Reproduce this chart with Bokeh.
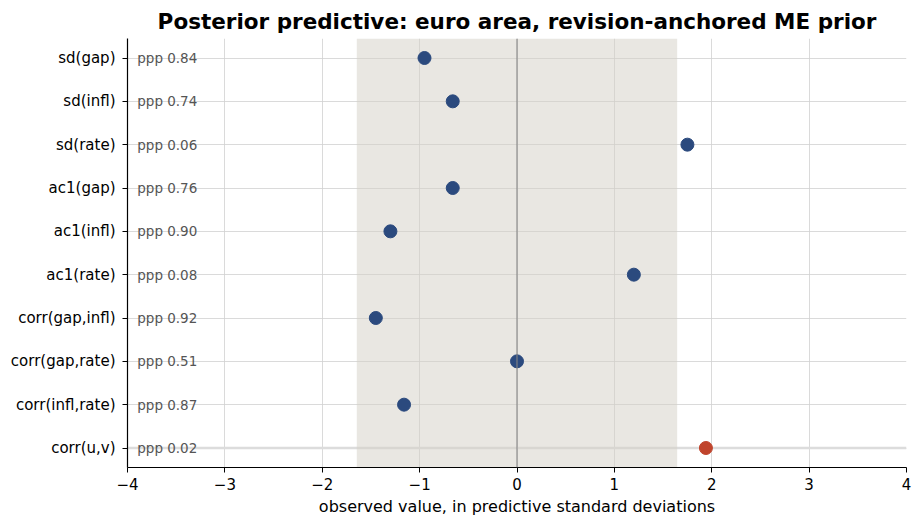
from bokeh.plotting import figure
from bokeh.models import ColumnDataSource, FixedTicker, Span, Range1d
from bokeh.core.properties import value
from bokeh.embed import file_html
from bokeh.resources import INLINE

# statistics, top to bottom
stats = ["sd(gap)", "sd(infl)", "sd(rate)", "ac1(gap)", "ac1(infl)", "ac1(rate)",
         "corr(gap,infl)", "corr(gap,rate)", "corr(infl,rate)", "corr(u,v)"]
zscore = [-0.95, -0.66, 1.75, -0.66, -1.30, 1.20, -1.45, 0.00, -1.16, 1.94]
ppp = [0.84, 0.74, 0.06, 0.76, 0.90, 0.08, 0.92, 0.51, 0.87, 0.02]
band_lo, band_hi = -1.645, 1.645

ypos = list(range(len(stats)))
colors = ["#c0442c" if p < 0.05 else "#2b4a7e" for p in ppp]
src = ColumnDataSource(data=dict(y=ypos, z=zscore, c=colors,
                                 lab=["ppp %.2f" % p for p in ppp],
                                 lx=[-3.9] * len(stats)))

W, H = 915, 521
p = figure(width=W, height=H, output_backend="svg", toolbar_location=None,
           x_range=Range1d(-4, 4), y_range=Range1d(len(stats) - 0.55, -0.45),
           title="Posterior predictive: euro area, revision-anchored ME prior",
           min_border_left=127, min_border_right=W - 906, min_border_top=38,
           min_border_bottom=H - 467)

p.title.align = "center"
p.title.text_font = "DejaVu Sans"
p.title.text_font_size = "21.5px"
p.title.text_font_style = "bold"
p.title.text_color = "black"

# highlighted row for tail statistics
for yy, pv in zip(ypos, ppp):
    if pv < 0.05:
        p.add_layout(Span(location=yy, dimension="width", line_color="#dcdcdc",
                          line_width=2.5, level="underlay"))

# central 90% band
p.quad(left=[band_lo], right=[band_hi], bottom=[-0.45], top=[len(stats) - 0.55],
       fill_color="#d3cfc5", fill_alpha=0.5, line_color=None)

p.add_layout(Span(location=0, dimension="height", line_color="#858585", line_width=1.1))

p.scatter("z", "y", source=src, size=13, fill_color="c", line_color="c")
p.text("lx", "y", text="lab", source=src, text_font_size="13.5px", text_color="#555555",
       text_baseline="middle", text_font=value("DejaVu Sans"))

p.xaxis.ticker = FixedTicker(ticks=list(range(-4, 5)))
p.xaxis.major_label_overrides = {i: ("\u2212%d" % -i if i < 0 else str(i)) for i in range(-4, 5)}
p.yaxis.ticker = FixedTicker(ticks=ypos)
p.yaxis.major_label_overrides = {i: s for i, s in enumerate(stats)}
p.xaxis.axis_label = "observed value, in predictive standard deviations"

for ax in (p.xaxis, p.yaxis):
    ax.major_label_text_font = "DejaVu Sans"
    ax.major_label_text_font_size = "15px"
    ax.major_label_text_color = "black"
    ax.axis_line_color = "black"
    ax.axis_line_width = 1.2
    ax.major_tick_line_color = "black"
    ax.major_tick_in = 0
    ax.major_tick_out = 5
    ax.minor_tick_line_color = None
p.yaxis.major_label_standoff = 7
p.xaxis.axis_label_text_font = "DejaVu Sans"
p.xaxis.axis_label_text_font_size = "16px"
p.xaxis.axis_label_text_font_style = "normal"
p.xaxis.axis_label_text_color = "black"
p.xaxis.axis_label_standoff = 4

p.grid.grid_line_color = "#d0d0d0"
p.grid.grid_line_width = 0.8
p.outline_line_color = None

open("out.html", "w").write(file_html(p, INLINE))
